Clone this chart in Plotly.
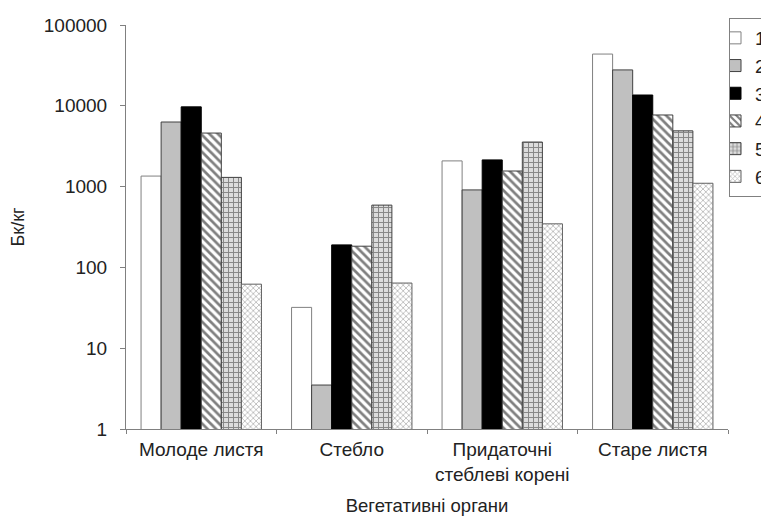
import plotly.graph_objects as go

categories = ["Молоде листя", "Стебло", "Придаточні<br>стеблеві корені", "Старе листя"]
series_names = ["1", "2", "3", "4", "5", "6"]
s1 = [1350, 32, 2080, 43700]
s2 = [6300, 3.5, 910, 27800]
s3 = [9700, 190, 2140, 13600]
s4 = [4600, 183, 1560, 7700]
s5 = [1300, 590, 3560, 4900]
s6 = [62, 64, 346, 1100]
values = [s1, s2, s3, s4, s5, s6]

styles = [
    dict(color="white", line=dict(color="#808080", width=1)),
    dict(color="#c0c0c0", line=dict(color="#404040", width=1)),
    dict(color="black", line=dict(color="black", width=1)),
    dict(color="white", line=dict(color="#404040", width=1),
         pattern=dict(shape="\\", fgcolor="black", bgcolor="white", size=6, solidity=0.45)),
    dict(color="white", line=dict(color="#404040", width=1),
         pattern=dict(shape="+", fgcolor="#303030", bgcolor="#dcdcdc", size=5, solidity=0.35)),
    dict(color="white", line=dict(color="#606060", width=1),
         pattern=dict(shape="x", fgcolor="#7a7a7a", bgcolor="white", size=4, solidity=0.4)),
]

fig = go.Figure()
for name, vals, st in zip(series_names, values, styles):
    fig.add_trace(go.Bar(x=categories, y=vals, name=name, marker=st))

font = "Liberation Sans, Arial, sans-serif"
fig.update_layout(
    width=769, height=516,
    margin=dict(l=118, r=49, t=17, b=95, autoexpand=False),
    plot_bgcolor="white", paper_bgcolor="white",
    barmode="group", bargap=0.2, bargroupgap=0,
    font=dict(family=font, size=19, color="#222222"),
    showlegend=True,
    legend=dict(xref="container", yref="container", x=721 / 769, xanchor="left",
                y=1 - 10 / 516, yanchor="top", indentation=-15,
                bordercolor="#808080", borderwidth=1, bgcolor="white",
                font=dict(size=19), itemwidth=30, tracegroupgap=0),
    xaxis=dict(showline=True, linecolor="#808080", linewidth=1, automargin=False,
               ticks="outside", tickson="boundaries", ticklen=4, tickcolor="#808080",
               ticklabelstandoff=3, showgrid=False,
               title=dict(text="Вегетативні органи", font=dict(size=18.5), standoff=15)),
    yaxis=dict(type="log", range=[0, 5], dtick=1, tickformat="d", automargin=False,
               showline=True, linecolor="#808080", linewidth=1,
               ticks="outside", ticklen=5, tickcolor="#808080", ticklabelstandoff=9,
               showgrid=False, zeroline=False,
               title=dict(text="Бк/кг", font=dict(size=18), standoff=20)),
)

fig.write_html("out.html")
